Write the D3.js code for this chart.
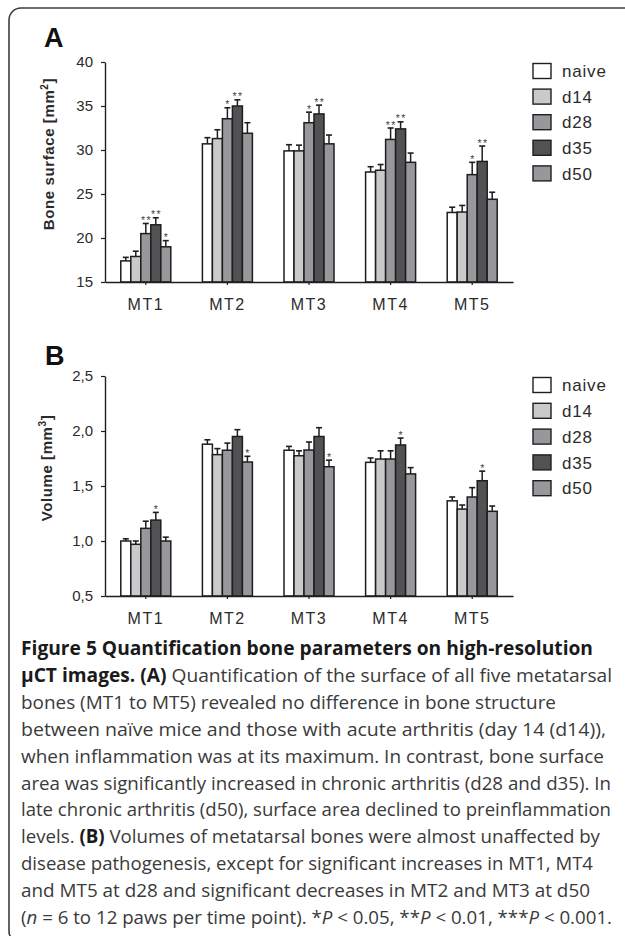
<!DOCTYPE html>
<html>
<head>
<meta charset="utf-8">
<script src="https://cdnjs.cloudflare.com/ajax/libs/d3/7.8.5/d3.min.js"></script>
<style>
body { margin: 0; background: #fff; }
svg text { font-family: "Liberation Sans", Arial, sans-serif; fill: #2b2b2b; }
.caption text { font-family: "Open Sans", "Noto Sans", sans-serif; fill: #3a3a3a; }
</style>
</head>
<body>
<script>
// groups and time points
var groups = ["MT1", "MT2", "MT3", "MT4", "MT5"];
var series = ["naive", "d14", "d28", "d35", "d50"];
var colors = ["#ffffff", "#c9cacc", "#97989b", "#525254", "#97989b"];

// A: bone surface [mm2], one row per MT, one value per time point
var surfaceMean = [
    [17.4, 17.9, 20.5, 21.5, 19.0],
    [30.7, 31.3, 33.55, 35.0, 31.9],
    [29.9, 29.9, 33.1, 34.1, 30.7],
    [27.5, 27.7, 31.2, 32.4, 28.6],
    [22.9, 22.95, 27.2, 28.7, 24.4]
];
var surfaceSem = [
    [0.4, 0.6, 1.15, 0.8, 0.7],
    [0.7, 1.0, 1.25, 0.7, 1.2],
    [0.7, 0.65, 1.2, 1.0, 1.0],
    [0.6, 0.65, 1.3, 0.8, 1.05],
    [0.6, 0.75, 1.4, 1.75, 0.8]
];
var surfaceStars = [
    ["", "", "**", "**", "*"],
    ["", "", "*", "**", ""],
    ["", "", "*", "**", ""],
    ["", "", "**", "**", ""],
    ["", "", "*", "**", ""]
];
var surfaceTicks = [15, 20, 25, 30, 35, 40];

// B: volume [mm3]
var volumeMean = [
    [1.0, 0.97, 1.115, 1.19, 1.0],
    [1.88, 1.785, 1.825, 1.95, 1.718],
    [1.825, 1.775, 1.827, 1.95, 1.675],
    [1.715, 1.745, 1.745, 1.873, 1.61],
    [1.365, 1.29, 1.40, 1.548, 1.27]
];
var volumeSem = [
    [0.02, 0.03, 0.065, 0.07, 0.035],
    [0.04, 0.055, 0.065, 0.062, 0.052],
    [0.035, 0.045, 0.073, 0.08, 0.06],
    [0.04, 0.075, 0.075, 0.063, 0.057],
    [0.035, 0.037, 0.085, 0.087, 0.048]
];
var volumeStars = [
    ["", "", "", "*", ""],
    ["", "", "", "", "*"],
    ["", "", "", "", "*"],
    ["", "", "", "*", ""],
    ["", "", "", "*", ""]
];
var volumeTicks = [0.5, 1.0, 1.5, 2.0, 2.5];

var captionLines = [
    [["Figure 5 Quantification bone parameters on high-resolution", "b"]],
    [["µCT images. (A)", "b"], [" Quantification of the surface of all five metatarsal", ""]],
    [["bones (MT1 to MT5) revealed no difference in bone structure", ""]],
    [["between naïve mice and those with acute arthritis (day 14 (d14)),", ""]],
    [["when inflammation was at its maximum. In contrast, bone surface", ""]],
    [["area was significantly increased in chronic arthritis (d28 and d35). In", ""]],
    [["late chronic arthritis (d50), surface area declined to preinflammation", ""]],
    [["levels. ", ""], ["(B)", "b"], [" Volumes of metatarsal bones were almost unaffected by", ""]],
    [["disease pathogenesis, except for significant increases in MT1, MT4", ""]],
    [["and MT5 at d28 and significant decreases in MT2 and MT3 at d50", ""]],
    [["(", ""], ["n", "i"], [" = 6 to 12 paws per time point). *", ""], ["P", "i"], [" < 0.05, **", ""],
     ["P", "i"], [" < 0.01, ***", ""], ["P", "i"], [" < 0.001.", ""]]
];
var captionWidths = [572, 591, 535, 585, 583, 590, 590, 579, 572, 569, 591];

var width = 625, height = 936;

var svg = d3.select("body").append("svg")
    .attr("width", width)
    .attr("height", height);

// rounded frame (right and bottom run off the page)
svg.append("rect")
    .attr("x", 9).attr("y", 8)
    .attr("width", 640).attr("height", 935)
    .attr("rx", 12)
    .attr("fill", "none")
    .attr("stroke", "#3c3c3c")
    .attr("stroke-width", 1.6);

var left = 105, right = 513;

function drawPanel(p) {
    var g = svg.append("g");

    var x0 = d3.scaleBand().domain(groups).range([left, right]);
    var x1 = d3.scaleBand().domain(series)
        .range([0, x0.bandwidth()])
        .paddingInner(0)
        .paddingOuter(1.58);
    var y = d3.scaleLinear().domain(p.domain).range([p.bottom, p.top]);

    // bars
    groups.forEach(function (grp, gi) {
        series.forEach(function (s, si) {
            var m = p.mean[gi][si], e = m + p.sem[gi][si];
            var cx = x0(grp) + x1(s) + x1.bandwidth() / 2;
            g.append("line")
                .attr("x1", cx).attr("x2", cx)
                .attr("y1", y(m)).attr("y2", y(e))
                .attr("stroke", "#1e1e1e").attr("stroke-width", 1.5);
            g.append("line")
                .attr("x1", cx - 3).attr("x2", cx + 3)
                .attr("y1", y(e)).attr("y2", y(e))
                .attr("stroke", "#1e1e1e").attr("stroke-width", 1.6);
            g.append("rect")
                .attr("x", x0(grp) + x1(s))
                .attr("y", y(m))
                .attr("width", x1.bandwidth())
                .attr("height", p.bottom - y(m))
                .attr("fill", colors[si])
                .attr("stroke", "#1e1e1e")
                .attr("stroke-width", 1.5);
            if (p.stars[gi][si]) {
                g.append("text")
                    .attr("x", cx + 0.7)
                    .attr("y", y(e) + 0.5)
                    .attr("text-anchor", "middle")
                    .attr("font-size", 10.5)
                    .attr("letter-spacing", 1.4)
                    .style("fill", "#444")
                    .text(p.stars[gi][si]);
            }
        });
    });

    // axes
    var ya = g.append("g")
        .attr("transform", "translate(" + left + ",0)")
        .call(d3.axisLeft(y).tickValues(p.ticks).tickSize(4).tickSizeOuter(0).tickPadding(8)
            .tickFormat(p.fmt));
    var xa = g.append("g")
        .attr("transform", "translate(0," + p.bottom + ")")
        .call(d3.axisBottom(x0).tickSize(3).tickSizeOuter(0).tickPadding(14));

    [ya, xa].forEach(function (a) {
        a.select(".domain").attr("stroke", "#1e1e1e").attr("stroke-width", 1.4);
        a.selectAll(".tick line").attr("stroke", "#1e1e1e").attr("stroke-width", 1.2);
        a.selectAll("text").attr("font-family", null).style("fill", "#2b2b2b");
    });
    ya.selectAll("text").attr("font-size", 15);
    xa.selectAll("text").attr("font-size", 16).attr("letter-spacing", 1.5);

    // axis title with superscript
    var t = g.append("text")
        .attr("transform", "translate(" + p.titleX + "," + p.titleY + ") rotate(-90)")
        .attr("text-anchor", "middle")
        .attr("font-size", 15)
        .attr("font-weight", "bold")
        .attr("letter-spacing", 0.6);
    t.append("tspan").text(p.title);
    t.append("tspan").attr("font-size", 10).attr("dy", -6).text(p.sup);
    t.append("tspan").attr("dy", 6).text("]");

    // panel letter
    g.append("text")
        .attr("x", p.letterX).attr("y", p.letterY)
        .attr("font-size", 27).attr("font-weight", "bold")
        .style("fill", "#111")
        .text(p.letter);

    // legend
    var lg = g.append("g");
    series.forEach(function (s, i) {
        var cy = p.legendY + i * p.legendStep;
        lg.append("rect")
            .attr("x", 533).attr("y", cy - 7.5)
            .attr("width", 18).attr("height", 15)
            .attr("fill", colors[i])
            .attr("stroke", "#1e1e1e").attr("stroke-width", 1.4);
        lg.append("text")
            .attr("x", 562).attr("y", cy)
            .attr("dy", "0.36em")
            .attr("font-size", 17)
            .attr("letter-spacing", 0.8)
            .text(s);
    });
}

drawPanel({
    top: 62, bottom: 282, domain: [15, 40], ticks: surfaceTicks,
    fmt: d3.format("d"),
    mean: surfaceMean, sem: surfaceSem, stars: surfaceStars,
    title: "Bone surface [mm", sup: "2", titleX: 54, titleY: 154,
    letter: "A", letterX: 44, letterY: 47,
    legendY: 71, legendStep: 25.6
});

drawPanel({
    top: 376, bottom: 596, domain: [0.5, 2.5], ticks: volumeTicks,
    fmt: function (d) { return d3.format(".1f")(d).replace(".", ","); },
    mean: volumeMean, sem: volumeSem, stars: volumeStars,
    title: "Volume [mm", sup: "3", titleX: 52, titleY: 468,
    letter: "B", letterX: 45, letterY: 365,
    legendY: 385, legendStep: 25.8
});

// caption
var cap = svg.append("g").attr("class", "caption");
captionLines.forEach(function (segs, i) {
    var t = cap.append("text")
        .attr("x", 21)
        .attr("y", 655 + i * 26.9)
        .attr("font-size", 19)
        .attr("textLength", captionWidths[i])
        .attr("lengthAdjust", "spacingAndGlyphs");
    segs.forEach(function (s) {
        var ts = t.append("tspan").text(s[0]);
        if (s[1] == "b") ts.attr("font-weight", "bold").style("fill", "#1a1a1a");
        if (s[1] == "i") ts.attr("font-style", "italic");
    });
});
</script>
</body>
</html>
